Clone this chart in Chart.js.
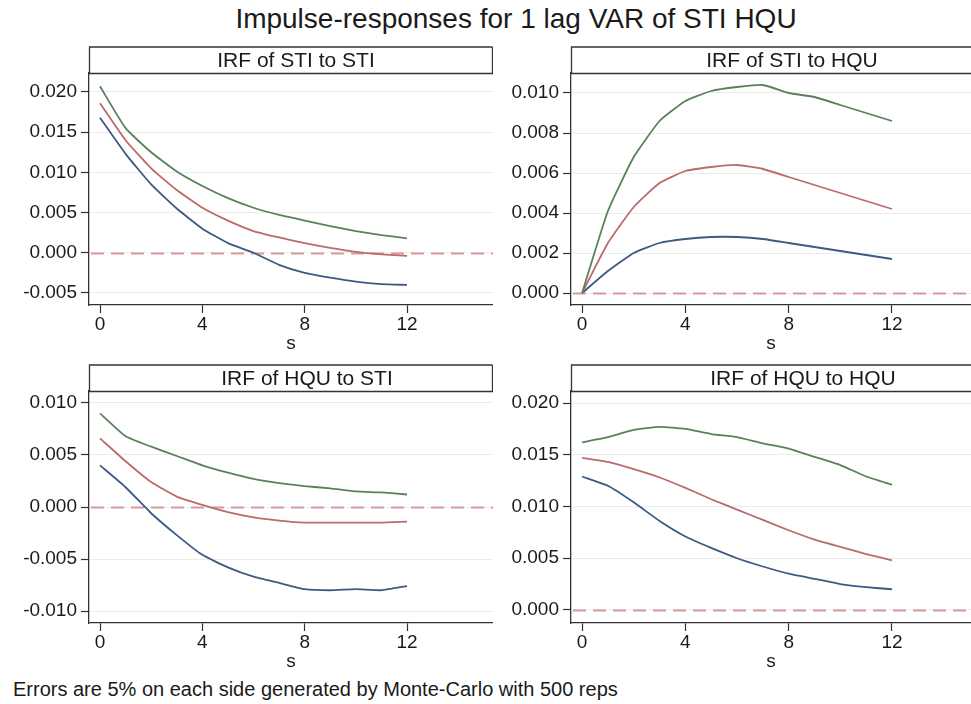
<!DOCTYPE html>
<html>
<head>
<meta charset="utf-8">
<script src="https://cdn.jsdelivr.net/npm/chart.js@4.4.0/dist/chart.umd.min.js"></script>
<style>
  body { margin:0; background:#fff; width:971px; height:704px; position:relative; overflow:hidden;
         font-family:"Liberation Sans", Arial, sans-serif; color:#1a1a1a; }
  canvas { position:absolute; }
  #mainTitle { position:absolute; left:0; width:1032px; top:3px; text-align:center; font-size:28px; }
  #note { position:absolute; left:13px; top:678px; font-size:20px; }
</style>
</head>
<body>
<div id="mainTitle">Impulse-responses for 1 lag VAR of STI HQU</div>
<canvas id="c1" width="493" height="309" style="left:0;top:46px"></canvas>
<canvas id="c2" width="486" height="309" style="left:485px;top:46px"></canvas>
<canvas id="c3" width="493" height="309" style="left:0;top:364px"></canvas>
<canvas id="c4" width="486" height="309" style="left:485px;top:364px"></canvas>
<div id="note">Errors are 5% on each side generated by Monte-Carlo with 500 reps</div>
<script>
// horizon steps
const STEPS = [0,1,2,3,4,5,6,7,8,9,10,11,12];
const X_TICKS = [0,4,8,12];

// IRF of STI to STI
const STI_STI_HI  = [0.0207,0.0155,0.0125,0.0101,0.0083,0.0068,0.0056,0.0047,0.0040,0.0033,0.0027,0.0022,0.0018];
const STI_STI_IRF = [0.0186,0.0140,0.0105,0.0078,0.0056,0.0040,0.0027,0.0019,0.0012,0.0006,0.0001,-0.0002,-0.0004];
const STI_STI_LO  = [0.0168,0.0123,0.0085,0.0055,0.0030,0.0012,0.0000,-0.0015,-0.0025,-0.0031,-0.0036,-0.0039,-0.0040];
const STI_STI_YTICKS = [-0.005,0,0.005,0.010,0.015,0.020];

// IRF of STI to HQU
const STI_HQU_HI  = [0,0.0041,0.0068,0.0086,0.0096,0.0101,0.0103,0.0104,0.0100,0.0098,0.0094,0.0090,0.0086];
const STI_HQU_IRF = [0,0.0025,0.0043,0.0055,0.0061,0.0063,0.0064,0.0062,0.0058,0.0054,0.0050,0.0046,0.0042];
const STI_HQU_LO  = [0,0.0011,0.0020,0.0025,0.0027,0.0028,0.0028,0.0027,0.0025,0.0023,0.0021,0.0019,0.0017];
const STI_HQU_YTICKS = [0,0.002,0.004,0.006,0.008,0.010];

// IRF of HQU to STI
const HQU_STI_HI  = [0.0090,0.0068,0.0058,0.0049,0.0040,0.0033,0.0027,0.0023,0.0020,0.0018,0.0015,0.0014,0.0012];
const HQU_STI_IRF = [0.0066,0.0044,0.0024,0.0010,0.0002,-0.0005,-0.0010,-0.0013,-0.0015,-0.0015,-0.0015,-0.0015,-0.0014];
const HQU_STI_LO  = [0.0040,0.0019,-0.0006,-0.0027,-0.0046,-0.0058,-0.0067,-0.0073,-0.0079,-0.0080,-0.0079,-0.0080,-0.0076];
const HQU_STI_YTICKS = [-0.010,-0.005,0,0.005,0.010];

// IRF of HQU to HQU
const HQU_HQU_HI  = [0.0162,0.0167,0.0174,0.0177,0.0175,0.0170,0.0167,0.0161,0.0156,0.0148,0.0140,0.0129,0.0121];
const HQU_HQU_IRF = [0.0147,0.0143,0.0136,0.0128,0.0118,0.0107,0.0097,0.0087,0.0077,0.0068,0.0061,0.0054,0.0048];
const HQU_HQU_LO  = [0.0129,0.0120,0.0104,0.0086,0.0071,0.0060,0.0050,0.0042,0.0035,0.0030,0.0025,0.0022,0.0020];
const HQU_HQU_YTICKS = [0,0.005,0.010,0.015,0.020];

const GREEN = '#5b815b', RED = '#bb6b6b', BLUE = '#3d5a82';
const FONT = 'Liberation Sans, Arial, sans-serif';
const INK = '#1a1a1a';

// title box above the plot region + dashed zero line
const panelDeco = {
  id: 'panelDeco',
  beforeDatasetsDraw(chart) {
    const {ctx, chartArea: a, scales: {y}} = chart;
    const y0 = Math.round(y.getPixelForValue(0)) + 0.5;
    ctx.save();
    ctx.beginPath();
    ctx.rect(a.left, a.top, a.right - a.left, a.bottom - a.top);
    ctx.clip();
    ctx.strokeStyle = '#d59a9a';
    ctx.lineWidth = 2;
    ctx.setLineDash([13, 7]);
    ctx.beginPath();
    ctx.moveTo(a.left + 2, y0);
    ctx.lineTo(a.right, y0);
    ctx.stroke();
    ctx.restore();
  },
  afterDraw(chart, args, opts) {
    const {ctx, chartArea: a} = chart;
    const top = 1, bot = a.top + 0.5, left = a.left + 0.5, right = a.right - 0.5;
    ctx.save();
    ctx.strokeStyle = '#333';
    ctx.lineWidth = 1.3;
    ctx.beginPath();
    ctx.moveTo(right + (opts.closed ? 0 : 2), top);
    ctx.lineTo(left, top);
    ctx.lineTo(left, bot);
    ctx.lineTo(right + (opts.closed ? 0 : 2), bot);
    if (opts.closed) ctx.lineTo(right, top);
    ctx.stroke();
    ctx.fillStyle = INK;
    ctx.font = '21px ' + FONT;
    ctx.textAlign = 'center';
    ctx.textBaseline = 'middle';
    ctx.fillText(opts.text, opts.textX, (top + bot) / 2 + 1);
    ctx.restore();
  }
};

function makePanel(id, title, textX, closed, lo, irf, hi, yTicks, yMin, yMax, xMax, axisW) {
  const pts = arr => arr.map((v, i) => ({x: STEPS[i], y: v}));
  const line = (data, color) => ({data: pts(data), borderColor: color, borderWidth: 1.8,
                                  pointRadius: 0, tension: 0.15, fill: false});
  new Chart(document.getElementById(id), {
    type: 'line',
    data: { datasets: [line(hi, GREEN), line(irf, RED), line(lo, BLUE)] },
    options: {
      responsive: false,
      animation: false,
      layout: { padding: { top: 27, left: 0, right: 0, bottom: 0 } },
      plugins: {
        legend: { display: false },
        tooltip: { enabled: false },
        panelDeco: { text: title, textX: textX, closed: closed }
      },
      scales: {
        x: {
          type: 'linear', min: -0.43, max: xMax,
          afterBuildTicks: s => { s.ticks = X_TICKS.map(v => ({value: v})); },
          afterFit: s => { s.height = 50; },
          ticks: { font: {family: FONT, size: 19}, color: INK, padding: 0, maxRotation: 0, autoSkip: false },
          grid: { drawOnChartArea: false, drawTicks: true, tickLength: 8, tickColor: '#333', tickWidth: 1.2 },
          border: { display: true, color: '#333', width: 1.3 },
          title: { display: true, text: 's', font: {family: FONT, size: 19}, color: INK, padding: {top: 0, bottom: 0} }
        },
        y: {
          type: 'linear', min: yMin, max: yMax,
          afterBuildTicks: s => { s.ticks = yTicks.map(v => ({value: v})); },
          afterFit: s => { s.width = axisW; },
          ticks: { font: {family: FONT, size: 19}, color: INK, padding: 4,
                   callback: v => Number(v).toFixed(3) },
          grid: { color: '#ececec', lineWidth: 1, drawTicks: true, tickLength: 8, tickColor: '#333', tickWidth: 1.2 },
          border: { display: true, color: '#333', width: 1.3 }
        }
      }
    },
    plugins: [panelDeco]
  });
}

makePanel('c1', 'IRF of STI to STI', 296, true,  STI_STI_LO, STI_STI_IRF, STI_STI_HI, STI_STI_YTICKS, -0.0065, 0.02236, 15.36, 89);
makePanel('c2', 'IRF of STI to HQU', 307, false, STI_HQU_LO, STI_HQU_IRF, STI_HQU_HI, STI_HQU_YTICKS, -0.0006, 0.0110, 15.06, 86);
makePanel('c3', 'IRF of HQU to STI', 307, true,  HQU_STI_LO, HQU_STI_IRF, HQU_STI_HI, HQU_STI_YTICKS, -0.01115, 0.01115, 15.36, 89);
makePanel('c4', 'IRF of HQU to HQU', 318, false, HQU_HQU_LO, HQU_HQU_IRF, HQU_HQU_HI, HQU_HQU_YTICKS, -0.00126, 0.02116, 15.06, 86);
</script>
</body>
</html>
